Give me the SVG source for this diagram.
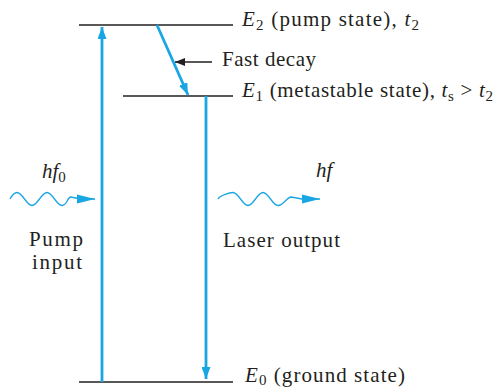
<svg xmlns="http://www.w3.org/2000/svg" width="499" height="388" viewBox="0 0 499 388">
<style>
text{font-family:"Liberation Serif","Times New Roman",serif;font-size:21px;fill:#231f20}
.it{font-style:italic}
.sub{font-size:15px;font-style:normal}
.lvl{stroke:#231f20;stroke-width:1.3}
.blue{stroke:#1aa6e3;stroke-width:2.8;fill:none}
.wave{stroke:#1aa6e3;stroke-width:1.3;fill:none}
.blk{stroke:#231f20;stroke-width:1.6;fill:none}
</style>
<defs>
<marker id="ab" markerUnits="userSpaceOnUse" markerWidth="12" markerHeight="9" refX="12" refY="4.5" orient="auto"><path d="M0,0 L12,4.5 L0,9 Z" fill="#1aa6e3"/></marker>
<marker id="aw" markerUnits="userSpaceOnUse" markerWidth="18" markerHeight="10" refX="18" refY="5" orient="auto"><path d="M0,0.5 L18,5 L0,9.5 Z" fill="#1aa6e3"/></marker>
<marker id="ak" markerUnits="userSpaceOnUse" markerWidth="10" markerHeight="8" refX="10" refY="4" orient="auto"><path d="M0,0 L10,4 L0,8 Z" fill="#231f20"/></marker>
</defs>
<g id="level-E2">
<line class="lvl" x1="79" y1="25" x2="233" y2="25"/>
<text x="242" y="26" textLength="177" lengthAdjust="spacing"><tspan class="it">E</tspan><tspan class="sub" dy="4">2</tspan><tspan dy="-4"> (pump state), </tspan><tspan class="it">t</tspan><tspan class="sub" dy="4">2</tspan></text>
</g>
<g id="level-E1">
<line class="lvl" x1="123" y1="96" x2="233" y2="96"/>
<text x="242" y="97" textLength="251" lengthAdjust="spacing"><tspan class="it">E</tspan><tspan class="sub" dy="4">1</tspan><tspan dy="-4"> (metastable state), </tspan><tspan class="it">t</tspan><tspan class="sub" dy="4">s</tspan><tspan dy="-4"> &gt; </tspan><tspan class="it">t</tspan><tspan class="sub" dy="4">2</tspan></text>
</g>
<g id="level-E0">
<line class="lvl" x1="79" y1="382" x2="233" y2="382"/>
<text x="245" y="382" textLength="160" lengthAdjust="spacing"><tspan class="it">E</tspan><tspan class="sub" dy="3">0</tspan><tspan dy="-3"> (ground state)</tspan></text>
</g>
<g id="label-fast-decay">
<text x="222" y="66" textLength="94" lengthAdjust="spacing">Fast decay</text>
</g>
<g id="label-pump">
<text x="42" y="178" class="it">hf<tspan class="sub" dy="4">0</tspan></text>
<text x="56" y="246" text-anchor="middle" textLength="54" lengthAdjust="spacing">Pump</text>
<text x="57" y="269" text-anchor="middle" textLength="50" lengthAdjust="spacing">input</text>
</g>
<g id="label-laser">
<text x="316" y="177" class="it">hf</text>
<text x="223" y="247" textLength="117" lengthAdjust="spacing">Laser output</text>
</g>
<g id="connectors">
<line class="blue" x1="102" y1="382" x2="102" y2="27" marker-end="url(#ab)"/>
<line class="blue" x1="206" y1="96" x2="206" y2="379" marker-end="url(#ab)"/>
<line class="blue" x1="157" y1="25" x2="188" y2="95" marker-end="url(#ab)"/>
<line class="blk" x1="212" y1="62" x2="175" y2="62" marker-end="url(#ak)"/>
<path class="wave" d="M10,199 C12,195.5 14,192.5 17,192.5 C22.5,192.5 26.5,205.5 32,205.5 S41.5,192.5 47,192.5 S56.5,205.5 62,205.5 S67,197 71,197 L80,199 L95,199" marker-end="url(#aw)"/>
<path class="wave" d="M218,199 C220,195.5 230,192.5 233,192.5 C238.5,192.5 242.5,205.5 248,205.5 S257.5,192.5 263,192.5 S272.5,205.5 278,205.5 S287,197 291,197 L302,199 L320,199" marker-end="url(#aw)"/>
</g>
</svg>
